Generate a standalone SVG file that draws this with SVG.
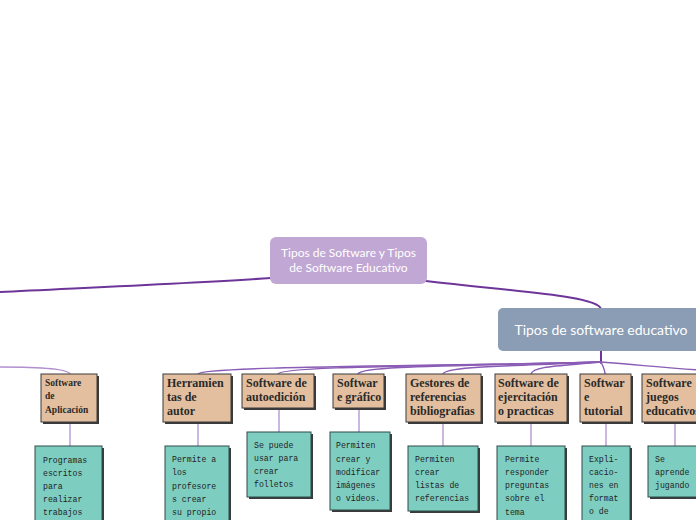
<svg xmlns="http://www.w3.org/2000/svg" width="696" height="520" viewBox="0 0 696 520">
<style>
.thick{fill:none;stroke:#6e3599;stroke-width:2;stroke-linecap:round}
.thin{fill:none;stroke:#b28fd0;stroke-width:1.3}
.br{fill:none;stroke:#8a5cb5;stroke-width:1.4}
.tan{fill:#e3bf9f;stroke:#3a3a3a;stroke-width:1}
.teal{fill:#7ecdc1;stroke:#2f4d48;stroke-width:1}
.sh{fill:#3a3a3a}
.t1{font-family:"Liberation Serif",serif;font-weight:bold;font-size:12px;fill:#2a2a2a}
.t2{font-family:"Liberation Mono",monospace;font-size:8.2px;fill:#1f1f1f}
</style>
<rect width="696" height="520" fill="#ffffff"/>
<g id="connectors">
<path class="thick" d="M271,278 C200,283 80,288 0,292"/>
<path class="thick" d="M426,281 C520,292 598,296 601,309"/>
<path class="thick" d="M601,351 L601,363"/>
<path class="thin" d="M0,367 C40,367 68,369 70,374"/>
<path class="br" d="M601,362 C450,366 200,366 198,374"/>
<path class="br" d="M601,362 C450,366 280,366 278,374"/>
<path class="br" d="M601,362 C450,366 360,366 358,374"/>
<path class="br" d="M601,362 C520,366 445,366 443,374"/>
<path class="br" d="M601,362 C560,366 533,366 531,374"/>
<path class="br" d="M601,362 C604,368 605,370 605,374"/>
<path class="br" d="M601,362 C650,366 670,368 700,370"/>
<path class="thin" d="M70,422 L70,446"/>
<path class="thin" d="M198,422 L198,446"/>
<path class="thin" d="M279,408 L279,432"/>
<path class="thin" d="M359,408 L359,432"/>
<path class="thin" d="M443,422 L443,446"/>
<path class="thin" d="M531,422 L531,446"/>
<path class="thin" d="M606,422 L606,446"/>
<path class="thin" d="M675,422 L675,446"/>
</g>
<g id="root">
<rect x="270" y="237" width="157" height="47" rx="6" fill="#c1a7d3"/>
<text x="348.5" y="257" text-anchor="middle" font-family="Lato,'Liberation Sans',sans-serif" font-size="12" fill="#ffffff">Tipos de Software y Tipos</text>
<text x="348.5" y="272" text-anchor="middle" font-family="Lato,'Liberation Sans',sans-serif" font-size="12" fill="#ffffff">de Software Educativo</text>
</g>
<g id="tipos-educativo">
<rect x="498" y="308" width="210" height="43" rx="5" fill="#8b9db4"/>
<text x="601" y="335" text-anchor="middle" font-family="Lato,'Liberation Sans',sans-serif" font-size="14" fill="#ffffff">Tipos de software educativo</text>
</g>
<g id="n-aplicacion">
<rect class="sh" x="43" y="376" width="56" height="48"/>
<rect class="tan" x="41" y="374" width="56" height="48"/>
<text class="t1" style="font-size:9.5px" x="45" y="386">Software</text>
<text class="t1" style="font-size:9.5px" x="45" y="399">de</text>
<text class="t1" style="font-size:9.5px" x="45" y="413">Aplicación</text>
</g>
<g id="n-herramientas">
<rect class="sh" x="165" y="376" width="68" height="48"/>
<rect class="tan" x="163" y="374" width="68" height="48"/>
<text class="t1" x="167" y="387">Herramien</text>
<text class="t1" x="167" y="401">tas de</text>
<text class="t1" x="167" y="415">autor</text>
</g>
<g id="n-autoedicion">
<rect class="sh" x="244" y="376" width="72" height="34"/>
<rect class="tan" x="242" y="374" width="72" height="34"/>
<text class="t1" x="246" y="387">Software de</text>
<text class="t1" x="246" y="401">autoedición</text>
</g>
<g id="n-grafico">
<rect class="sh" x="335" y="376" width="51" height="34"/>
<rect class="tan" x="333" y="374" width="51" height="34"/>
<text class="t1" x="337" y="387">Softwar</text>
<text class="t1" x="337" y="401">e gráfico</text>
</g>
<g id="n-gestores">
<rect class="sh" x="408" y="376" width="75" height="48"/>
<rect class="tan" x="406" y="374" width="75" height="48"/>
<text class="t1" x="410" y="387">Gestores de</text>
<text class="t1" x="410" y="401">referencias</text>
<text class="t1" x="410" y="415">bibliografias</text>
</g>
<g id="n-ejercitacion">
<rect class="sh" x="497" y="376" width="72" height="48"/>
<rect class="tan" x="495" y="374" width="72" height="48"/>
<text class="t1" x="498" y="387">Software de</text>
<text class="t1" x="498" y="401">ejercitación</text>
<text class="t1" x="498" y="415">o practicas</text>
</g>
<g id="n-tutorial">
<rect class="sh" x="582" y="376" width="51" height="48"/>
<rect class="tan" x="580" y="374" width="51" height="48"/>
<text class="t1" x="584" y="387">Softwar</text>
<text class="t1" x="584" y="401">e</text>
<text class="t1" x="584" y="415">tutorial</text>
</g>
<g id="n-juegos">
<rect class="sh" x="644" y="376" width="60" height="48"/>
<rect class="tan" x="642" y="374" width="60" height="48"/>
<text class="t1" x="646" y="387">Software</text>
<text class="t1" x="646" y="401">juegos</text>
<text class="t1" x="646" y="415">educativos</text>
</g>
<g id="d-aplicacion">
<rect class="sh" x="37" y="448" width="67" height="80"/>
<rect class="teal" x="35" y="446" width="67" height="80"/>
<text class="t2" x="43" y="463">Programas</text>
<text class="t2" x="43" y="476">escritos</text>
<text class="t2" x="43" y="489">para</text>
<text class="t2" x="43" y="502">realizar</text>
<text class="t2" x="43" y="515">trabajos</text>
</g>
<g id="d-herramientas">
<rect class="sh" x="167" y="448" width="64" height="80"/>
<rect class="teal" x="165" y="446" width="64" height="80"/>
<text class="t2" x="172" y="462">Permite a</text>
<text class="t2" x="172" y="475">los</text>
<text class="t2" x="172" y="489">profesore</text>
<text class="t2" x="172" y="502">s crear</text>
<text class="t2" x="172" y="515">su propio</text>
</g>
<g id="d-autoedicion">
<rect class="sh" x="249" y="434" width="64" height="65"/>
<rect class="teal" x="247" y="432" width="64" height="65"/>
<text class="t2" x="254" y="448">Se puede</text>
<text class="t2" x="254" y="461">usar para</text>
<text class="t2" x="254" y="474">crear</text>
<text class="t2" x="254" y="487">folletos</text>
</g>
<g id="d-grafico">
<rect class="sh" x="332" y="434" width="60" height="78"/>
<rect class="teal" x="330" y="432" width="60" height="78"/>
<text class="t2" x="336" y="448">Permiten</text>
<text class="t2" x="336" y="462">crear y</text>
<text class="t2" x="336" y="475">modificar</text>
<text class="t2" x="336" y="488">imágenes</text>
<text class="t2" x="336" y="501">o videos.</text>
</g>
<g id="d-gestores">
<rect class="sh" x="410" y="448" width="70" height="65"/>
<rect class="teal" x="408" y="446" width="70" height="65"/>
<text class="t2" x="415" y="462">Permiten</text>
<text class="t2" x="415" y="475">crear</text>
<text class="t2" x="415" y="488">listas de</text>
<text class="t2" x="415" y="501">referencias</text>
</g>
<g id="d-ejercitacion">
<rect class="sh" x="499" y="448" width="68" height="80"/>
<rect class="teal" x="497" y="446" width="68" height="80"/>
<text class="t2" x="505" y="462">Permite</text>
<text class="t2" x="505" y="475">responder</text>
<text class="t2" x="505" y="488">preguntas</text>
<text class="t2" x="505" y="501">sobre el</text>
<text class="t2" x="505" y="515">tema</text>
</g>
<g id="d-tutorial">
<rect class="sh" x="584" y="448" width="48" height="80"/>
<rect class="teal" x="582" y="446" width="48" height="80"/>
<text class="t2" x="589" y="462">Expli-</text>
<text class="t2" x="589" y="475">cacio-</text>
<text class="t2" x="589" y="488">nes en</text>
<text class="t2" x="589" y="501">format</text>
<text class="t2" x="589" y="514">o de</text>
</g>
<g id="d-juegos">
<rect class="sh" x="650" y="448" width="56" height="51"/>
<rect class="teal" x="648" y="446" width="56" height="51"/>
<text class="t2" x="655" y="462">Se</text>
<text class="t2" x="655" y="475">aprende</text>
<text class="t2" x="655" y="488">jugando</text>
</g>
</svg>
